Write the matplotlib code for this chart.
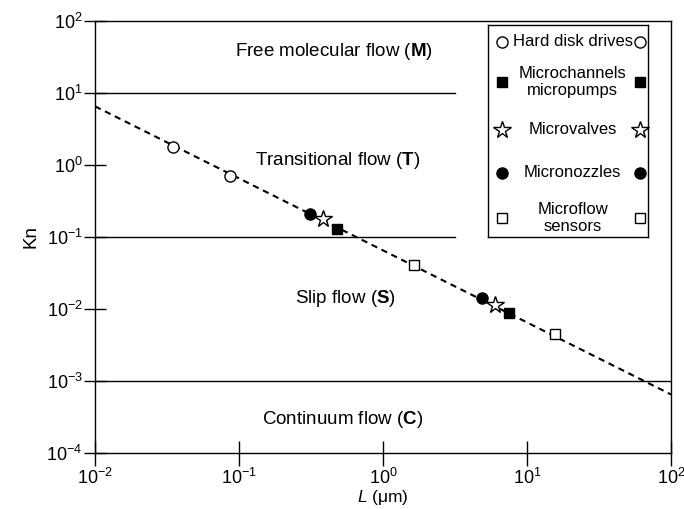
import matplotlib
matplotlib.use("Agg")
import matplotlib.pyplot as plt
import numpy as np

plt.rcParams['font.family'] = ['Liberation Sans', 'DejaVu Sans']
plt.rcParams['mathtext.fontset'] = 'custom'
plt.rcParams['mathtext.rm'] = 'Liberation Sans'
plt.rcParams['mathtext.it'] = 'Liberation Sans:italic'
plt.rcParams['mathtext.bf'] = 'Liberation Sans:bold'

# ---- data ----
trend_L = [0.01, 100]
trend_Kn = [6.5, 6.5e-4]

hdd_L = [0.035, 0.087]
hdd_Kn = [1.78, 0.70]
nozzle_L = [0.31, 4.9]
nozzle_Kn = [0.21, 0.0142]
valve_L = [0.38, 6.0]
valve_Kn = [0.178, 0.0114]
channel_L = [0.48, 7.5]
channel_Kn = [0.129, 0.0088]
sensor_L = [1.64, 15.6]
sensor_Kn = [0.041, 0.0045]

boundary_Kn = [10, 0.1, 0.001]
boundary_xmax = [3.16, 3.16, 100]

regions = [r"Free molecular flow ($\mathbf{M}$)", r"Transitional flow ($\mathbf{T}$)",
           r"Slip flow ($\mathbf{S}$)", r"Continuum flow ($\mathbf{C}$)"]
region_x = [0.457, 0.487, 0.545, 0.527]
region_y = [37, 1.17, 0.0138, 2.9e-4]

legend_labels = ["Hard disk drives", "Microchannels\nmicropumps", "Microvalves",
                 "Micronozzles", "Microflow\nsensors"]

fig = plt.figure(figsize=(6.84, 5.09), dpi=100)
ax = fig.add_axes([0.139, 0.110, 0.842, 0.849])
ax.set_xscale('log')
ax.set_yscale('log')
ax.set_xlim(1e-2, 1e2)
ax.set_ylim(1e-4, 1e2)

for k, xm in zip(boundary_Kn, boundary_xmax):
    ax.plot([1e-2, xm], [k, k], color='black', lw=1.0, zorder=1)

ax.plot(trend_L, trend_Kn, color='black', lw=1.5, ls=(0, (3, 2.3)), zorder=2)

mk = dict(color='black', ls='none', zorder=3)
ax.plot(hdd_L, hdd_Kn, marker='o', ms=8, mfc='white', mec='black', mew=1.0, **mk)
ax.plot(nozzle_L, nozzle_Kn, marker='o', ms=8, mfc='black', mec='black', **mk)
ax.plot(valve_L, valve_Kn, marker='*', ms=13, mfc='white', mec='black', mew=1.0, **mk)
ax.plot(channel_L, channel_Kn, marker='s', ms=7, mfc='black', mec='black', **mk)
ax.plot(sensor_L, sensor_Kn, marker='s', ms=7, mfc='white', mec='black', mew=1.0, **mk)

for t, x, y in zip(regions, region_x, region_y):
    ax.text(x, y, t, ha='center', va='center', fontsize=13.5)

ax.tick_params(axis='y', which='major', direction='inout', length=16, width=1, labelsize=13, pad=1)
ax.tick_params(axis='x', which='major', direction='inout', length=18, width=1, labelsize=13, pad=2)
ax.tick_params(which='minor', length=0)
ax.set_xticks([1e-2, 1e-1, 1, 10, 100])
ax.set_yticks([1e-4, 1e-3, 1e-2, 1e-1, 1, 10, 100])
ax.set_xlabel(r"$L$ (μm)", fontsize=12.5, labelpad=0)
ax.set_ylabel("Kn", fontsize=13.5, labelpad=5)
for s in ax.spines.values():
    s.set_linewidth(1.0)

# custom legend
lax = fig.add_axes([488/684, 1-237/509, 160/684, 212/509])
lax.set_xlim(0, 1)
lax.set_ylim(0, 1)
lax.set_xticks([])
lax.set_yticks([])
for s in lax.spines.values():
    s.set_linewidth(1.0)
row_y = [0.92, 0.731, 0.505, 0.302, 0.09]
styles = [dict(marker='o', ms=8, mfc='white', mew=1.0),
          dict(marker='s', ms=7, mfc='black'),
          dict(marker='*', ms=13, mfc='white', mew=1.0),
          dict(marker='o', ms=8, mfc='black'),
          dict(marker='s', ms=7, mfc='white', mew=1.0)]
for y, lab, st in zip(row_y, legend_labels, styles):
    lax.plot([0.09, 0.95], [y, y], ls='none', color='black', mec='black', clip_on=False, **st)
    lax.text(0.53, y, lab, ha='center', va='center', fontsize=12, linespacing=1.2)

fig.savefig("out.png", dpi=100)
